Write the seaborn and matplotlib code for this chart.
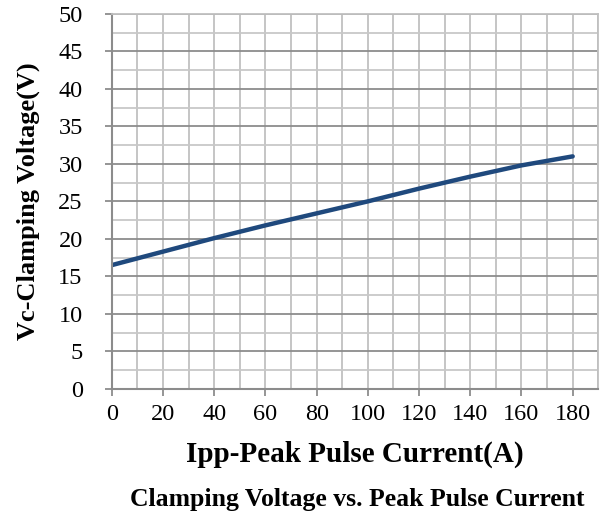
import matplotlib
matplotlib.use("Agg")
import matplotlib.pyplot as plt
import seaborn as sns
import pandas as pd
from matplotlib.ticker import MultipleLocator

# values
current_a = [0, 20, 40, 60, 80, 100, 120, 140, 160, 180]
clamp_v = [16.5, 18.3, 20.1, 21.8, 23.4, 25.0, 26.7, 28.3, 29.8, 31.0]

df = pd.DataFrame({"Ipp": current_a, "Vc": clamp_v})

sns.set_style("white")
plt.rcParams["font.family"] = ["Liberation Serif", "DejaVu Serif"]
plt.rcParams["text.color"] = "black"

fig = plt.figure(figsize=(6.08, 5.15), dpi=100)
ax = fig.add_axes([0.184, 0.245, 0.8, 0.728])

sns.lineplot(data=df, x="Ipp", y="Vc", ax=ax, color="#1f497d", linewidth=3.2)

ax.set_xlim(0, 190)
ax.set_ylim(0, 50)
ax.xaxis.set_major_locator(MultipleLocator(20))
ax.xaxis.set_minor_locator(MultipleLocator(10))
ax.yaxis.set_major_locator(MultipleLocator(5))
ax.yaxis.set_minor_locator(MultipleLocator(2.5))
ax.set_xticks(range(0, 181, 20))

ax.grid(which="major", axis="y", color="#8c8c8c", linewidth=1.3)
ax.grid(which="minor", axis="y", color="#c8c8c8", linewidth=1.3)
ax.grid(which="both", axis="x", color="#c0c0c0", linewidth=1.3)
ax.set_axisbelow(True)

for side in ["top", "right"]:
    ax.spines[side].set_color("#c0c0c0")
    ax.spines[side].set_linewidth(1.3)
for side in ["left", "bottom"]:
    ax.spines[side].set_color("#8c8c8c")
    ax.spines[side].set_linewidth(1.5)

ax.tick_params(axis="both", which="major", direction="out", length=5, width=1.3,
               color="#8c8c8c", labelcolor="black", labelsize=17.5, left=True, bottom=True)
ax.tick_params(axis="y", which="major", pad=16)
ax.tick_params(axis="x", which="major", pad=6)
ax.tick_params(axis="both", which="minor", length=0)

ax.set_xlabel("Ipp-Peak Pulse Current(A)", fontsize=21, fontweight="bold", color="black")
ax.set_ylabel("Vc-Clamping Voltage(V)", fontsize=19, fontweight="bold", color="black")
ax.xaxis.set_label_coords(0.5, -0.176)
ax.xaxis.label.set_va("center")
ax.yaxis.set_label_coords(-0.172, 0.5)
ax.yaxis.label.set_va("center")
fig.text(0.587, 0.031, "Clamping Voltage vs. Peak Pulse Current", ha="center", va="center",
         fontsize=18.5, fontweight="bold")

fig.savefig("out.png", dpi=100)
